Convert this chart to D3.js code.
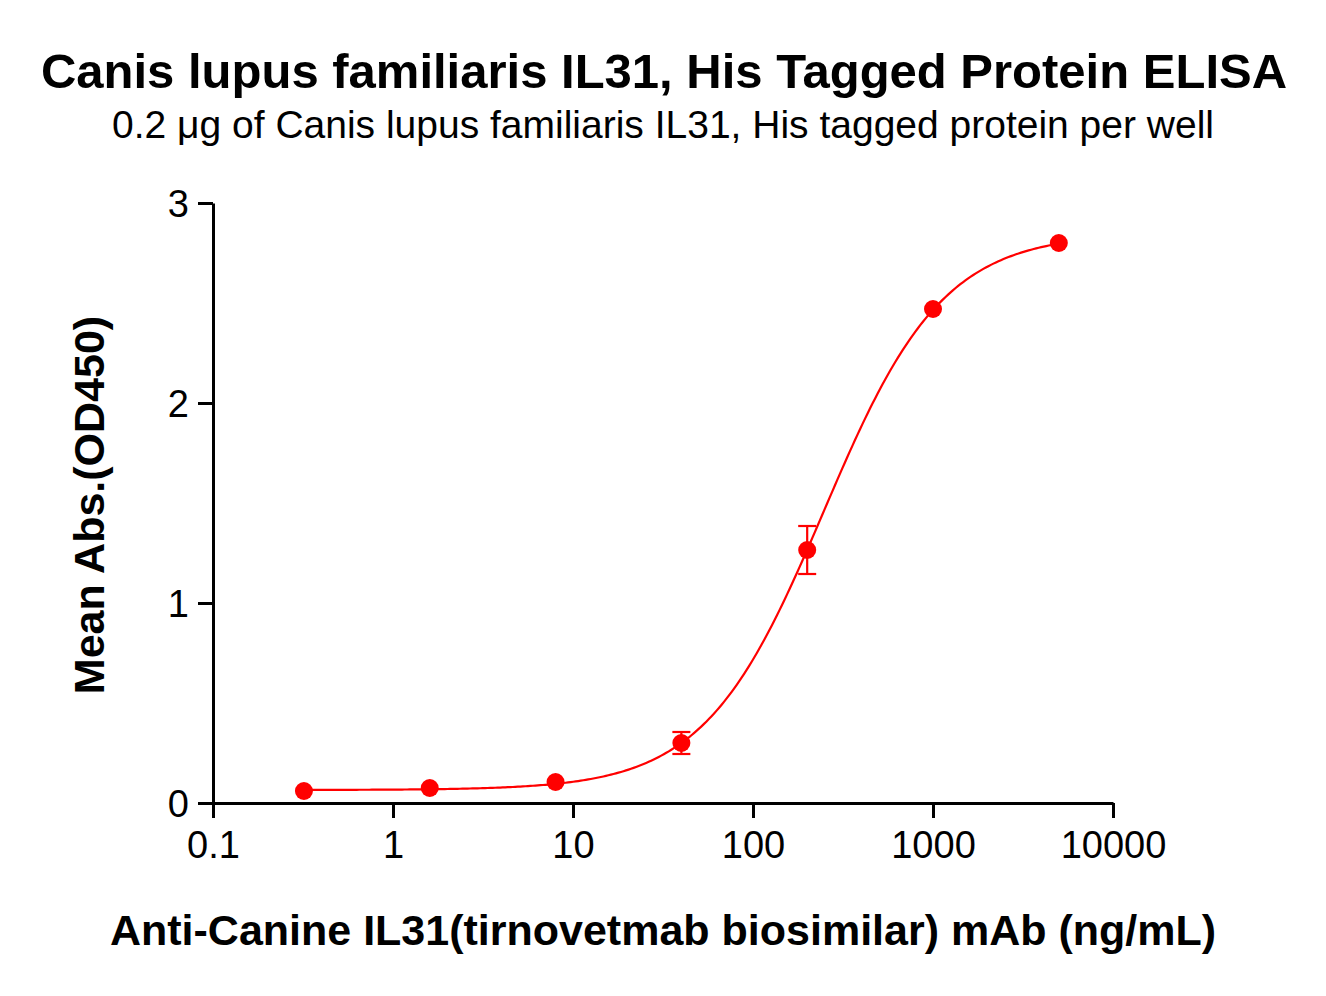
<!DOCTYPE html>
<html>
<head>
<meta charset="utf-8">
<script src="https://cdn.jsdelivr.net/npm/d3@7"></script>
<style>
  body { margin: 0; background: #fff; }
  text { font-family: "Liberation Sans", Arial, sans-serif; fill: #000; }
</style>
</head>
<body>
<div id="chart"></div>
<script>
const width = 1326, height = 996;
const margin = {top: 203, right: 213, bottom: 193, left: 213};

// concentration (ng/mL), mean OD450, error (SD)
const conc = [0.32, 1.6, 8, 40, 200, 1000, 5000];
const meanAbs = [0.06, 0.075, 0.105, 0.30, 1.265, 2.47, 2.80];
const errAbs = [0, 0, 0, 0.055, 0.12, 0, 0];
// 4PL fit: bottom, top, EC50, hill slope
const fitParams = [0.065, 2.85, 247, 1.31];
const xTicks = [0.1, 1, 10, 100, 1000, 10000];
const yTicks = [0, 1, 2, 3];

const svg = d3.select("#chart")
    .append("svg")
    .attr("width", width)
    .attr("height", height);

const x = d3.scaleLog()
    .domain([0.1, 10000])
    .range([margin.left, 1113]);

const y = d3.scaleLinear()
    .domain([0, 3])
    .range([803, margin.top]);

// axes
const xAxis = svg.append("g")
    .attr("transform", "translate(0,803)")
    .call(d3.axisBottom(x).tickValues(xTicks).tickFormat(d => String(d)).tickSize(15).tickSizeOuter(0).tickPadding(13));
const yAxis = svg.append("g")
    .attr("transform", `translate(${margin.left},0)`)
    .call(d3.axisLeft(y).tickValues(yTicks).tickFormat(d3.format("d")).tickSize(15).tickSizeOuter(0).tickPadding(9));

[xAxis, yAxis].forEach(g => {
    g.selectAll("path, line").attr("stroke", "#000").attr("stroke-width", 3);
    g.selectAll("text").style("font-size", "38px").attr("fill", "#000");
});
yAxis.selectAll("text").attr("dy", "0.36em");

// fitted curve (4PL)
const [fitBottom, fitTop, ec50, hill] = fitParams;
const fit = c => fitBottom + (fitTop - fitBottom) / (1 + Math.pow(ec50 / c, hill));
const lo = Math.log10(conc[0]), hi = Math.log10(conc[conc.length - 1]);
const fine = d3.range(0, 301).map(i => Math.pow(10, lo + i / 300 * (hi - lo)));

svg.append("path")
    .datum(fine)
    .attr("fill", "none")
    .attr("stroke", "#ff0000")
    .attr("stroke-width", 2.2)
    .attr("d", d3.line()
        .x(d => x(d))
        .y(d => y(fit(d)))
    );

const data = conc.map((c, i) => ({c: c, v: meanAbs[i], e: errAbs[i]}));

// error bars
const eb = svg.append("g")
    .attr("stroke", "#ff0000")
    .attr("stroke-width", 2.2)
    .selectAll("g")
    .data(data.filter(d => d.e > 0))
    .join("g");
eb.append("line")
    .attr("x1", d => x(d.c)).attr("x2", d => x(d.c))
    .attr("y1", d => y(d.v - d.e)).attr("y2", d => y(d.v + d.e));
eb.append("line")
    .attr("x1", d => x(d.c) - 9).attr("x2", d => x(d.c) + 9)
    .attr("y1", d => y(d.v + d.e)).attr("y2", d => y(d.v + d.e));
eb.append("line")
    .attr("x1", d => x(d.c) - 9).attr("x2", d => x(d.c) + 9)
    .attr("y1", d => y(d.v - d.e)).attr("y2", d => y(d.v - d.e));

// points
svg.append("g")
    .selectAll("circle")
    .data(data)
    .join("circle")
    .attr("cx", d => x(d.c))
    .attr("cy", d => y(d.v))
    .attr("r", 9)
    .attr("fill", "#ff0000");

// titles
svg.append("text")
    .attr("x", 664).attr("y", 88)
    .attr("text-anchor", "middle")
    .style("font-size", "49px").style("font-weight", "bold")
    .text("Canis lupus familiaris IL31, His Tagged Protein ELISA");

svg.append("text")
    .attr("x", 663).attr("y", 138)
    .attr("text-anchor", "middle")
    .style("font-size", "39px")
    .text("0.2 \u03bcg of Canis lupus familiaris IL31, His tagged protein per well");

svg.append("text")
    .attr("x", 663).attr("y", 945)
    .attr("text-anchor", "middle")
    .style("font-size", "43px").style("font-weight", "bold")
    .text("Anti-Canine IL31(tirnovetmab biosimilar) mAb (ng/mL)");

svg.append("text")
    .attr("transform", "translate(104,505) rotate(-90)")
    .attr("text-anchor", "middle")
    .style("font-size", "43px").style("font-weight", "bold")
    .text("Mean Abs.(OD450)");
</script>
</body>
</html>
